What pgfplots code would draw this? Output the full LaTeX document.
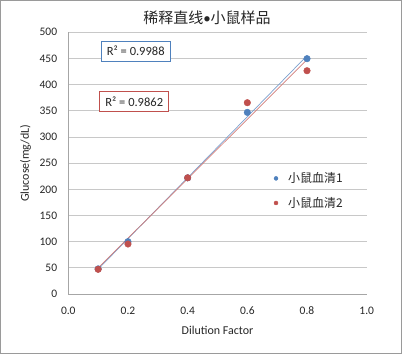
\documentclass[border=0pt]{standalone}
\usepackage{fontspec}
\setmainfont{Carlito}
\newfontfamily\cjk{Noto Sans CJK SC}
\usepackage{pgfplots}
\pgfplotsset{compat=1.18}
\definecolor{sblue}{HTML}{4F81BD}
\definecolor{sred}{HTML}{C0504D}
\definecolor{gridc}{HTML}{C8C8C8}
\definecolor{framec}{HTML}{9A9A9A}
\definecolor{axisc}{HTML}{A6A6A6}
\begin{document}
\begin{tikzpicture}
\begin{axis}[
  at={(0pt,0pt)}, anchor=south west, scale only axis,
  width=298.4pt, height=261.7pt,
  xmin=0, xmax=1, ymin=0, ymax=500,
  xtick={0,0.2,0.4,0.6,0.8,1.0}, ytick={0,50,...,500},
  axis lines*=left,
  axis line style={axisc, line width=0.8pt},
  ymajorgrids, major grid style={gridc, line width=0.9pt},
  major tick length=0pt,
  /pgf/number format/assume math mode=true,
  xticklabel={\pgfmathprintnumber[fixed, fixed zerofill, precision=1]{\tick}},
  tick label style={font=\fontsize{11.5}{13}\selectfont, text=black!85},
  xticklabel style={anchor=base, yshift=-20.5pt, inner sep=0pt},
  yticklabel style={anchor=east, inner sep=0pt, xshift=-11pt},
  xlabel={Dilution Factor}, ylabel={Glucose(mg/dL)},
  label style={font=\fontsize{12}{14}\selectfont, text=black!85},
  xlabel style={at={(axis description cs:0.5,-0.139)}, anchor=center},
  ylabel style={at={(axis description cs:-0.143,0.5)}, anchor=center},
  legend style={draw=none, fill=none, at={(rel axis cs:0.678,0.48)}, anchor=north west,
    font=\cjk\fontsize{12}{14}\selectfont, row sep=9pt, text=black!85},
  legend cell align=left,
]
% trend lines (least squares fits, endpoints)
\addplot[sblue!75, line width=0.7pt, forget plot] coordinates {(0.1,47.4) (0.8,455.3)};
\addplot[sred!75, line width=0.7pt, forget plot] coordinates {(0.1,49.7) (0.8,447.6)};
% data
\addplot[only marks, mark=*, mark size=3.3pt, color=sblue, forget plot] coordinates {
 (0.1,48) (0.2,100) (0.4,222) (0.6,347) (0.8,449.6)};
\addplot[only marks, mark=*, mark size=3.3pt, color=sred, forget plot] coordinates {
 (0.1,47.2) (0.2,95.5) (0.4,222) (0.6,365.5) (0.8,426.6)};
\addlegendimage{color=sblue, legend image code/.code={\fill[sblue] (0pt,0pt) circle (2pt); \path (10pt,0pt);}}
\addlegendentry{小鼠血清1}
\addlegendimage{color=sred, legend image code/.code={\fill[sred] (0pt,0pt) circle (2pt); \path (10pt,0pt);}}
\addlegendentry{小鼠血清2}
\node[draw=sblue, line width=0.9pt, fill=white, minimum width=69pt, minimum height=20pt, inner sep=0pt,
  font=\fontsize{12.5}{14}\selectfont, text=black!85] at (axis cs:0.226,463.9) {R² = 0.9988};
\node[draw=sred, line width=0.9pt, fill=white, minimum width=69pt, minimum height=20pt, inner sep=0pt,
  font=\fontsize{12.5}{14}\selectfont, text=black!85] at (axis cs:0.221,367.5) {R² = 0.9862};
\end{axis}
\useasboundingbox (-68.3pt,-60pt) rectangle (333.7pt,294pt);
\draw[framec, line width=1pt] (-67.8pt,-59.5pt) rectangle (333.2pt,293.5pt);
\node[font=\cjk\fontsize{15}{18}\selectfont, text=black!85] at (138.7pt,276pt) {稀释直线{\rmfamily •}小鼠样品};
\end{tikzpicture}
\end{document}
